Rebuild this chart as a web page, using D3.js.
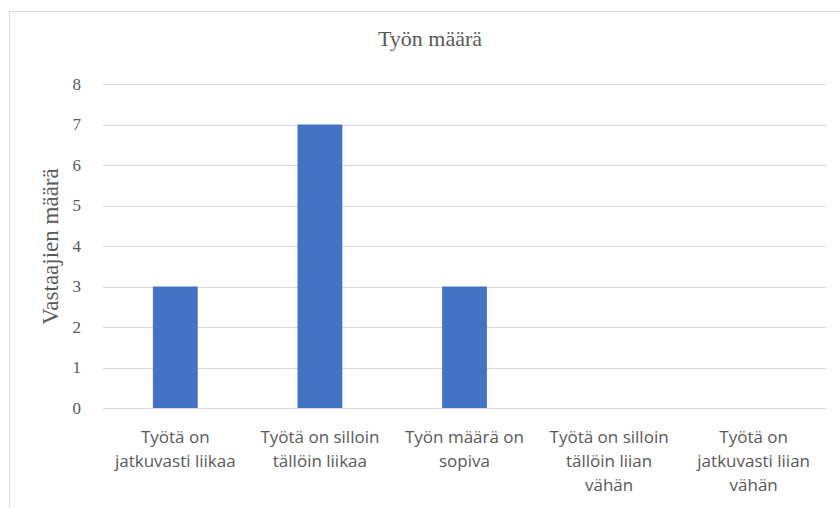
<!DOCTYPE html>
<html>
<head>
<meta charset="utf-8">
<script src="https://cdn.jsdelivr.net/npm/d3@7"></script>
<style>
  body { margin: 0; background: #fff; }
  svg { display: block; }
</style>
</head>
<body>
<svg id="chart" width="840" height="508"></svg>
<script>
// Data
const categories = [
  ['Työtä on', 'jatkuvasti liikaa'],
  ['Työtä on silloin', 'tällöin liikaa'],
  ['Työn määrä on', 'sopiva'],
  ['Työtä on silloin', 'tällöin liian', 'vähän'],
  ['Työtä on', 'jatkuvasti liian', 'vähän']
];
const counts = [3, 7, 3, 0, 0];
const yTicks = [0, 1, 2, 3, 4, 5, 6, 7, 8];
const chartTitle = 'Työn määrä';
const yTitle = 'Vastaajien määrä';

const svg = d3.select('#chart');
const margin = {left: 103, right: 14, top: 84, bottom: 100};
const width = 840, height = 508;

// chart frame
svg.append('rect')
  .attr('x', 9.5).attr('y', 11.5)
  .attr('width', 840).attr('height', 520)
  .attr('fill', '#fff').attr('stroke', '#d9d9d9');

const x = d3.scaleBand()
  .domain(d3.range(categories.length))
  .range([margin.left, width - margin.right])
  .paddingInner(0.69).paddingOuter(0.345);

const y = d3.scaleLinear().domain([0, 8]).range([height - margin.bottom, margin.top]);

// gridlines
svg.append('g').selectAll('line').data(yTicks).join('line')
  .attr('x1', margin.left).attr('x2', width - margin.right)
  .attr('y1', d => Math.round(y(d)) + 0.5).attr('y2', d => Math.round(y(d)) + 0.5)
  .attr('stroke', '#d9d9d9').attr('stroke-width', 1);

// y tick labels
svg.append('g').selectAll('text').data(yTicks).join('text')
  .attr('x', 81).attr('y', d => y(d))
  .attr('dy', '0.35em')
  .attr('text-anchor', 'end')
  .attr('font-family', 'Liberation Serif, serif')
  .attr('font-size', 17)
  .attr('fill', '#595959')
  .text(d => d);

// bars
svg.append('g').selectAll('rect').data(counts).join('rect')
  .attr('x', (d, i) => x(i))
  .attr('width', x.bandwidth())
  .attr('y', d => y(d))
  .attr('height', d => y(0) - y(d))
  .attr('fill', '#4472c4');

// category labels
const labels = svg.append('g').selectAll('text').data(categories).join('text')
  .attr('text-anchor', 'middle')
  .attr('font-family', 'Open Sans, sans-serif')
  .attr('font-size', 17)
  .attr('fill', '#595959');
labels.selectAll('tspan').data((d, i) => d.map(t => ({t, i}))).join('tspan')
  .attr('x', d => x(d.i) + x.bandwidth() / 2)
  .attr('y', (d, j) => 443 + j * 24)
  .text(d => d.t);

// title
svg.append('text')
  .attr('x', 430).attr('y', 46)
  .attr('text-anchor', 'middle')
  .attr('font-family', 'Liberation Serif, serif')
  .attr('font-size', 22)
  .attr('fill', '#595959')
  .text(chartTitle);

// y axis title
svg.append('text')
  .attr('transform', `translate(58, 246.5) rotate(-90)`)
  .attr('text-anchor', 'middle')
  .attr('font-family', 'Liberation Serif, serif')
  .attr('font-size', 23)
  .attr('fill', '#595959')
  .text(yTitle);
</script>
</body>
</html>
